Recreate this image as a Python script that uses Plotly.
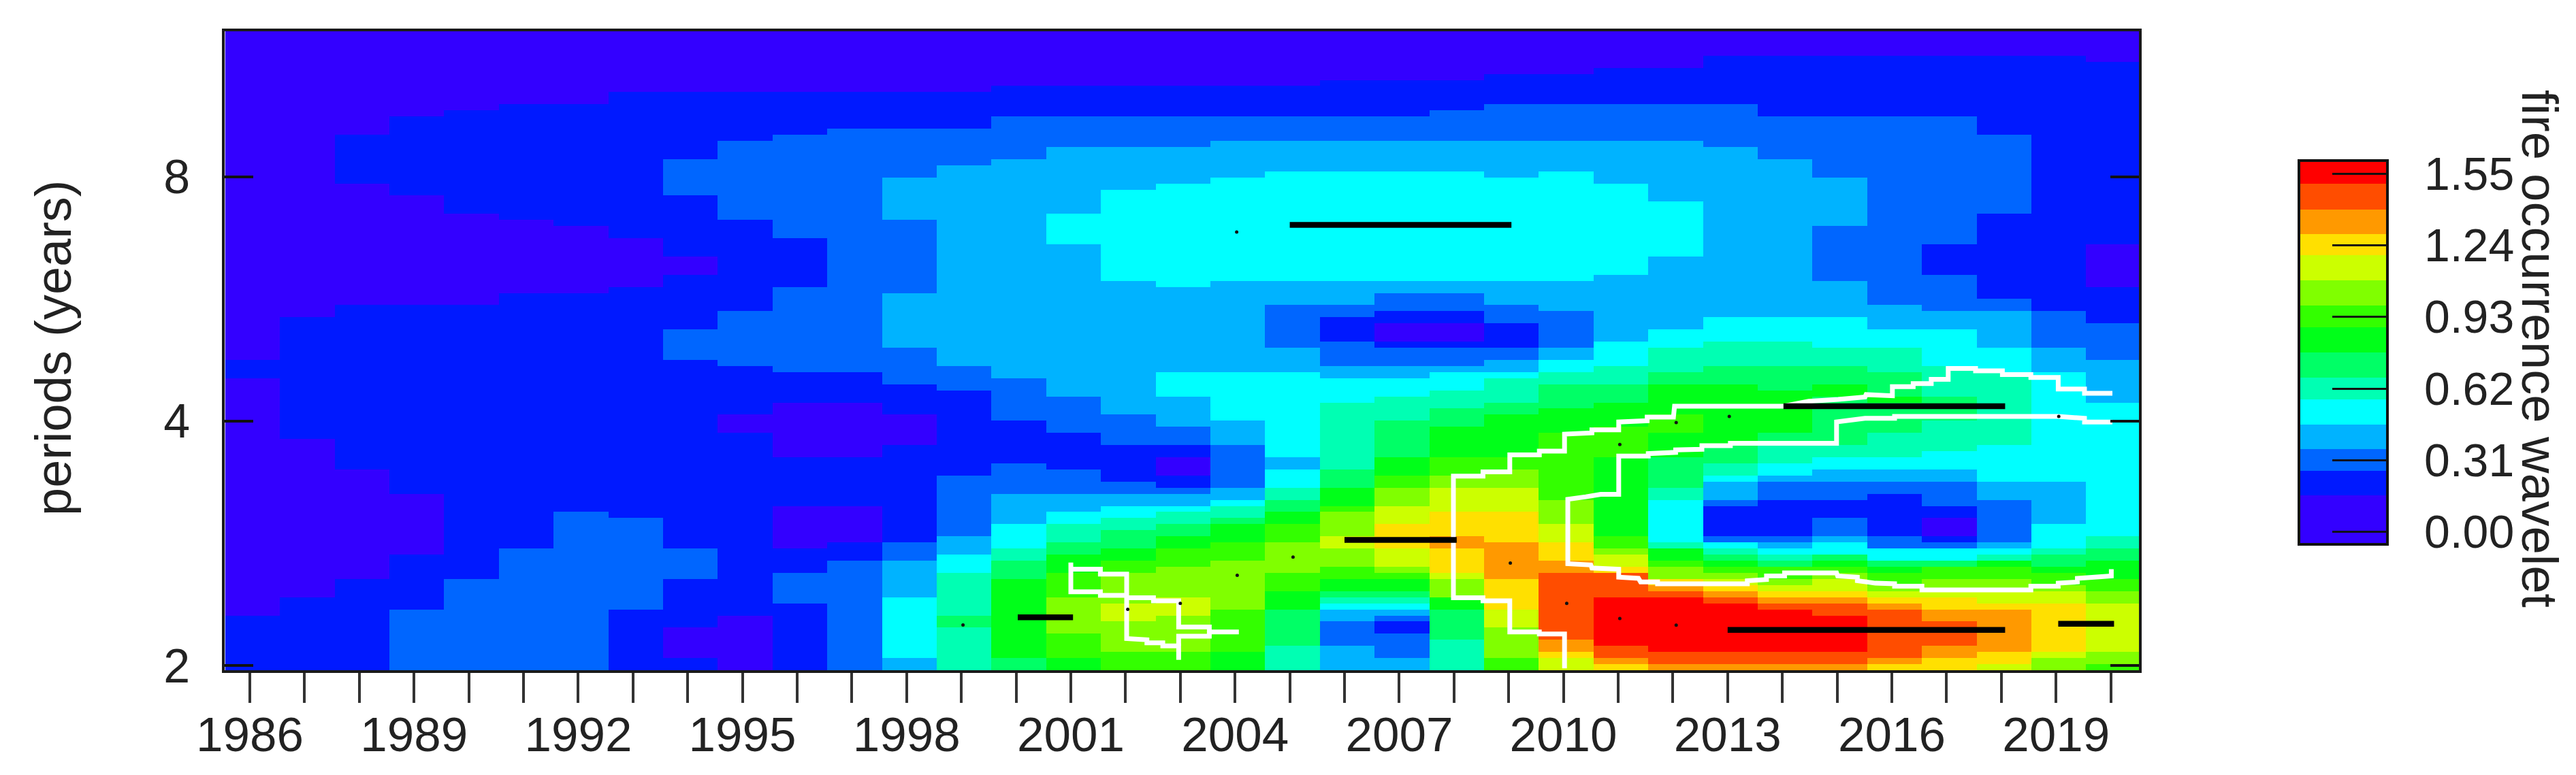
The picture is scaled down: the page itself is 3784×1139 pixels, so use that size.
"""Wavelet power spectrum of fire occurrence, 1986-2020."""

import numpy as np
import plotly.graph_objects as go

YEARS = list(range(1986, 2021))
N_SCALES = 105

# Rainbow key of the power image, lowest band first
LEVEL_COLORS = [
    "#3300ff", "#0019ff", "#0066ff", "#00b3ff", "#00ffff",
    "#00ffb3", "#00ff66", "#00ff19", "#33ff00", "#80ff00",
    "#ccff00", "#ffe000", "#ff9900", "#ff4d00", "#ff0000",
]
# Band limits of the key, in wavelet power
LEVEL_EDGES = [
    -0.054, 0.158, 0.263, 0.359, 0.464, 0.574, 0.668, 0.776,
    0.885, 0.979, 1.089, 1.197, 1.287, 1.395, 1.505, 1.606,
]
KEY_TICKS = [0.00, 0.31, 0.62, 0.93, 1.24, 1.55]

# One row per year: level, top scale index, level, top scale index, ... going up
POWER_BANDS = [
    [1, 9, 0, 48, 1, 51, 0, 105],
    [1, 12, 0, 37.6, 1, 58.4, 0, 105],
    [1, 14.7, 0, 33.2, 1, 60.3, 0, 80, 1, 88, 0, 105],
    [2, 10.2, 1, 19.4, 0, 28.7, 1, 60.3, 0, 77.8, 1, 90.6, 0, 105],
    [2, 14.7, 1, 60.3, 0, 75.2, 1, 92.5, 0, 105],
    [2, 20.5, 1, 62, 0, 74.1, 1, 93.5, 0, 105],
    [2, 26, 1, 62, 0, 73.1, 1, 93.5, 0, 105],
    [1, 10.2, 2, 25, 1, 62.9, 0, 70.6, 1, 95.3, 0, 105],
    [1, 2, 0, 7.5, 1, 14.9, 2, 20.5, 1, 51.2, 2, 55.8, 1, 65, 0, 68.5, 1, 77.8, 2, 84.4, 1, 95.3, 0, 105],
    [0, 8.7, 1, 39, 0, 41.8, 1, 50.2, 2, 59.4, 1, 74.2, 2, 86.9, 1, 95.3, 0, 105],
    [1, 11.4, 2, 16, 1, 20.5, 0, 27.1, 1, 35.5, 0, 44.4, 1, 49.1, 2, 62.9, 1, 70.6, 2, 87.9, 1, 95.3, 0, 105],
    [2, 17.9, 1, 21.4, 0, 27.1, 1, 35.5, 0, 44.4, 1, 49.1, 2, 89.1, 1, 95.3, 0, 105],
    [3, 2, 4, 12.3, 3, 17.9, 2, 21.5, 1, 37.3, 0, 41.9, 1, 46.7, 2, 52.8, 3, 61.8, 2, 74.3, 3, 81.3, 2, 89.1, 1, 95.3, 0, 105],
    [5, 6.7, 6, 8.8, 5, 15.8, 4, 19.5, 3, 22.5, 2, 31.7, 1, 45.6, 2, 50.2, 3, 83.4, 2, 89.1, 1, 95.3, 0, 105],
    [6, 2, 7, 14.7, 6, 17.9, 5, 20.5, 4, 24, 3, 28.6, 2, 34.1, 1, 40.9, 2, 48.1, 3, 84.4, 2, 90.6, 1, 96.3, 0, 105],
    [7, 2, 8, 5.6, 9, 12.3, 8, 15.8, 7, 19.4, 6, 21.4, 5, 24, 4, 26, 3, 28.6, 2, 33.2, 1, 39, 2, 44.6, 3, 70, 4, 75.2, 3, 86, 2, 90.6, 1, 96.3, 0, 105],
    [8, 3, 9, 7.6, 10, 11.2, 9, 15.8, 8, 18, 7, 20, 6, 22.6, 5, 25, 4, 27, 3, 28.6, 2, 30.6, 1, 37.3, 2, 41.9, 3, 64, 4, 78.8, 3, 86, 2, 90.6, 1, 96.3, 0, 105],
    [8, 3, 9, 8.8, 10, 12.3, 9, 17, 8, 20.3, 7, 22.5, 6, 24, 5, 26, 4, 27, 3, 28.6, 2, 29.6, 1, 31.9, 0, 35.2, 1, 37.5, 2, 39.9, 3, 45.4, 4, 49.1, 3, 62.9, 4, 79.9, 3, 86, 2, 91.5, 1, 96.3, 0, 105],
    [7, 3.2, 8, 10.2, 9, 17.9, 8, 21.4, 7, 24, 6, 25.2, 5, 27, 4, 28.5, 3, 29.6, 2, 37.3, 3, 40.8, 4, 49, 3, 64, 4, 81.3, 3, 86.9, 2, 91.5, 1, 96.3, 0, 105],
    [5, 3.9, 6, 10.2, 7, 13.4, 8, 15.8, 9, 21.4, 8, 24, 7, 25.8, 6, 28.5, 5, 29.6, 4, 33.2, 3, 35.2, 4, 49, 3, 52.7, 2, 60.3, 3, 64, 4, 82.3, 3, 86.9, 2, 91.5, 1, 96.3, 0, 105],
    [3, 3.9, 2, 7.6, 3, 10.2, 4, 11.4, 5, 12, 6, 13.2, 7, 14.7, 8, 17, 9, 19.6, 10, 22.5, 9, 25.9, 8, 27, 7, 29.6, 6, 33.2, 5, 44.4, 4, 48.1, 3, 50.1, 2, 53.7, 1, 58.4, 2, 60.3, 3, 64, 4, 82.3, 3, 86.9, 2, 91.5, 1, 97.3, 0, 105],
    [3, 2, 2, 5.6, 1, 7.6, 2, 8.6, 3, 10.2, 4, 11.4, 5, 12, 6, 13.2, 7, 14.7, 8, 15.8, 9, 17, 10, 19.6, 11, 24, 10, 27, 9, 29.6, 8, 31.9, 7, 35.2, 6, 41, 5, 45.5, 4, 48.1, 3, 50.1, 2, 52.7, 1, 53.7, 0, 57.2, 1, 59.3, 2, 61.7, 3, 64, 4, 82.3, 3, 86.9, 2, 91.5, 1, 97.3, 0, 105],
    [5, 5.4, 6, 10.2, 7, 11.7, 9, 14.7, 10, 15.8, 11, 19.6, 12, 22.4, 11, 26.1, 10, 29.6, 9, 31.7, 8, 35.2, 7, 39.7, 6, 43.4, 5, 46.4, 4, 49, 3, 50, 2, 52.7, 1, 53.7, 0, 57.2, 1, 59.3, 2, 61.7, 3, 64, 4, 82.3, 3, 86.9, 2, 92.4, 1, 97.3, 0, 105],
    [8, 2, 9, 6.7, 10, 10.2, 11, 15, 12, 21.4, 11, 26, 10, 29.6, 9, 33.2, 8, 35.2, 7, 41.9, 6, 44.5, 5, 48, 4, 49, 3, 51, 2, 53, 1, 57, 2, 60, 3, 64, 4, 81.3, 3, 86.9, 2, 92.6, 1, 98.3, 0, 105],
    [10, 2, 11, 3, 12, 5, 13, 16, 12, 18, 11, 21.5, 10, 24, 9, 28.1, 8, 39.3, 7, 43, 6, 46.6, 5, 49.2, 4, 51.2, 3, 53.5, 2, 59.4, 3, 64, 4, 82, 3, 86.9, 2, 92.6, 1, 98.3, 0, 105],
    [11, 1, 12, 2, 13, 4.1, 14, 12.3, 13, 15.8, 12, 16.5, 11, 17, 10, 18.6, 9, 20.5, 8, 22.5, 7, 34.8, 8, 40.4, 7, 43.8, 6, 46.8, 5, 50, 4, 53.7, 3, 65, 4, 79.9, 3, 87, 2, 92.6, 1, 99, 0, 105],
    [12, 1, 13, 3, 14, 12, 13, 13.4, 12, 14.2, 11, 15, 10, 15.5, 9, 17, 8, 18, 7, 19.6, 5, 21.4, 4, 28.5, 5, 30.4, 6, 34.8, 7, 38.9, 8, 41.9, 7, 46.6, 6, 49.4, 5, 52.7, 4, 55.8, 3, 68.5, 4, 76.7, 3, 87, 2, 92.6, 1, 99, 0, 105],
    [12, 1, 13, 3, 14, 11.3, 13, 12.3, 12, 13.2, 11, 13.8, 10, 14.6, 9, 15.8, 8, 17, 7, 18, 6, 19, 5, 20, 4, 20.7, 3, 21.4, 2, 22.5, 1, 27, 2, 28.5, 3, 30.6, 4, 31.7, 5, 34, 6, 36.7, 7, 46.6, 6, 50, 5, 53.7, 4, 58, 3, 86, 2, 92.6, 1, 100.8, 0, 105],
    [12, 1, 13, 3, 14, 10.2, 13, 11.4, 12, 12.3, 11, 13.4, 10, 14.4, 9, 15.5, 8, 16.6, 7, 17.5, 6, 18.5, 5, 19.4, 4, 20.5, 3, 21.4, 2, 22.5, 1, 28.5, 2, 30.7, 3, 31.8, 4, 34.1, 5, 36.7, 6, 39, 7, 46.4, 6, 50, 5, 53.7, 4, 58, 3, 84.4, 2, 91.5, 1, 100.8, 0, 105],
    [12, 1, 13, 3, 14, 8.6, 13, 11.4, 12, 12.3, 11, 13.4, 10, 14.7, 9, 15.7, 8, 16.6, 7, 17.9, 6, 18.6, 5, 19.4, 4, 20.9, 3, 22, 2, 25, 1, 28.5, 2, 30.7, 3, 33.2, 4, 35.2, 5, 37.4, 6, 44.6, 7, 47, 6, 50, 5, 53, 4, 57.6, 3, 64, 2, 73, 3, 81.3, 2, 91, 1, 100.8, 0, 105],
    [11, 1.1, 12, 2, 13, 10.2, 12, 11.2, 11, 12.1, 10, 13.2, 9, 14.2, 8, 15.7, 7, 16.8, 6, 17.9, 4, 19.6, 3, 20.5, 2, 22.5, 1, 28.7, 2, 30.7, 3, 33.2, 4, 35.4, 5, 38.8, 6, 44.2, 7, 45.5, 6, 49, 5, 52.7, 4, 56.5, 3, 60, 2, 91, 1, 100.8, 0, 105],
    [11, 2, 12, 4.1, 13, 7.6, 12, 10.2, 11, 12.5, 10, 13.4, 9, 15.3, 8, 16.8, 6, 17.9, 4, 19.6, 3, 20.5, 2, 21, 1, 22.5, 0, 25, 1, 27, 2, 30.7, 3, 33.2, 4, 36.3, 5, 41, 6, 45.3, 5, 50.1, 4, 56, 3, 58.6, 2, 65, 1, 69.6, 2, 90.6, 1, 100.8, 0, 105],
    [10, 1, 11, 3, 12, 10.2, 11, 11.2, 10, 13.4, 9, 15.3, 8, 16.8, 7, 17.9, 5, 19.4, 4, 20.5, 3, 21.4, 2, 28.5, 3, 30.7, 4, 37.3, 5, 49, 4, 52.6, 3, 58.6, 2, 60.7, 1, 75.3, 2, 87.9, 1, 100.8, 0, 105],
    [9, 2, 10, 3, 11, 11.2, 10, 13.2, 9, 14.2, 8, 15.7, 7, 16.8, 6, 19.2, 5, 20.5, 4, 24.2, 3, 30.6, 4, 49, 3, 53.3, 2, 58.6, 1, 100.8, 0, 105],
    [8, 1, 9, 3, 10, 11.2, 9, 13.2, 8, 15.3, 7, 17.9, 6, 20.5, 5, 22.5, 4, 44.5, 3, 51, 2, 57.5, 1, 63.1, 0, 70.4, 1, 99.8, 0, 105],
]

# Significance contours: year and scale index
CONTOUR_OUTER_YEAR = [
    2010.02, 2010.02, 2009.56, 2009.56, 2009.02, 2009.02, 2008.53, 2008.53, 2007.99, 2007.99,
    2008.53, 2008.53, 2009.02, 2009.02, 2009.56, 2009.56, 2010.02, 2010.02, 2010.52, 2010.52,
    2011.01, 2011.01, 2011.53, 2011.53, 2012.01, 2012.03, 2014.02, 2014.48, 2015.02, 2015.51,
    2015.53, 2016.01, 2016.01, 2016.39, 2016.39, 2016.72, 2016.72, 2017.03, 2017.03, 2017.53,
    2017.53, 2018.02, 2018.02, 2018.54, 2018.54, 2019.04, 2019.04, 2019.52, 2019.52, 2020.03,
]
CONTOUR_OUTER_SCALE = [
    0.3, 5.96, 5.96, 6.3, 6.3, 11.4, 11.4, 11.9, 11.9, 31.9,
    31.9, 32.6, 32.6, 35.4, 35.4, 36, 36, 38.8, 39, 39.5,
    39.5, 40.8, 41, 41.6, 41.6, 43.4, 43.4, 44.2, 44.5, 44.9,
    45.3, 45.1, 46.6, 46.6, 47.1, 47.1, 47.8, 47.8, 49.6, 49.6,
    49.2, 49.2, 48.6, 48.6, 48.1, 48.1, 46.2, 46.2, 45.5, 45.5,
]
CONTOUR_INNER_YEAR = [
    2020.03, 2019.52, 2019.52, 2019.04, 2016.05, 2016.05, 2015.51, 2014.99, 2014.99, 2013.05,
    2013.05, 2012.53, 2012.53, 2012.05, 2012.05, 2011.55, 2011.55, 2011.01, 2011.01, 2010.68,
    2010.41, 2010.08, 2010.08, 2010.50, 2010.52, 2011.01, 2011.01, 2011.37, 2011.41, 2011.72,
    2011.72, 2013.36, 2013.36, 2013.71, 2013.71, 2014.04, 2014.04, 2014.99, 2015.01, 2015.37,
    2015.37, 2015.70, 2016.05, 2016.05, 2016.55, 2016.55, 2018.54, 2018.54, 2019.04, 2019.04,
    2019.39, 2019.39, 2019.70, 2020.01, 2020.01,
]
CONTOUR_INNER_SCALE = [
    40.8, 40.8, 41.4, 41.7, 41.7, 41.4, 41.4, 40.8, 37.3, 37.3,
    36.9, 36.9, 36.3, 36.2, 35.8, 35.6, 35.2, 35.2, 28.9, 28.9,
    28.5, 28.1, 17.5, 17.3, 16.8, 16.6, 15.3, 15.1, 14.5, 14.5,
    14.2, 14.2, 14.7, 14.9, 15.5, 15.5, 16, 16, 15.5, 15.3,
    14.7, 14.3, 14.2, 13.8, 13.8, 13.2, 13.2, 13.8, 13.8, 14.3,
    14.5, 15.1, 15.3, 15.5, 16.6,
]
CONTOUR_SMALL_YEAR = [
    2001.0, 2001.0, 2001.54, 2001.54, 2002.02, 2002.02, 2001.54, 2001.54, 2001.0, None,
    2002.02, 2002.02, 2002.39, 2002.39, 2002.68, 2002.68, 2002.97, 2002.97, None,
    2002.97, 2002.97, 2003.53, 2003.53, 2004.07, 2003.53, 2003.53, 2002.97, 2002.97,
    2002.51, 2002.51, 2002.02,
]
CONTOUR_SMALL_SCALE = [
    17.7, 12.9, 12.9, 12.3, 12.3, 15.8, 15.8, 16.6, 16.6, None,
    12.3, 5.2, 5.0, 4.5, 4.5, 4.0, 4.0, 1.7, None,
    4.0, 5.6, 5.6, 6.3, 6.3, 6.3, 7.1, 7.1, 11.4,
    11.4, 11.9, 11.9,
]

# Power ridges
RIDGE_START = [2005.0, 2014.02, 2013.0, 2019.04, 2006.0, 2000.03]
RIDGE_END = [2009.05, 2018.07, 2018.07, 2020.06, 2008.05, 2001.04]
RIDGE_SCALE = [73.2, 43.4, 6.63, 7.64, 21.4, 8.7]
RIDGE_DOT_YEAR = [1999.03, 2002.04, 2003.0, 2004.04, 2005.06, 2009.03, 2010.06, 2011.03, 2012.06, 2011.03, 2012.06, 2013.03, 2019.05, 2004.03]
RIDGE_DOT_SCALE = [7.45, 10, 11, 15.6, 18.6, 17.6, 11, 8.5, 7.4, 37.1, 40.7, 41.7, 41.7, 72]

PERIOD_TICKS = [2, 4, 8]
AXIS_COLOR = "#1a1a1a"
FONT = "Liberation Sans"


def scale_to_log2(scale):
    """Scale index to log2(period); 40 voices per octave as drawn."""
    return 0.9805 + 0.02491 * np.asarray(scale, dtype=float)


def expand_bands(bands):
    """Run-length bands of one year to a full column of power values."""
    mids = [(LEVEL_EDGES[i] + LEVEL_EDGES[i + 1]) / 2 for i in range(len(LEVEL_COLORS))]
    column = []
    for j in range(N_SCALES):
        for k in range(0, len(bands), 2):
            if j + 0.5 < bands[k + 1]:
                column.append(mids[bands[k]])
                break
    return column


def log2_or_none(values):
    return [None if v is None else float(scale_to_log2(v)) for v in values]


z = np.array([expand_bands(b) for b in POWER_BANDS]).T

zmin, zmax = LEVEL_EDGES[0], LEVEL_EDGES[-1]
colorscale = []
for i, color in enumerate(LEVEL_COLORS):
    colorscale.append([(LEVEL_EDGES[i] - zmin) / (zmax - zmin), color])
    colorscale.append([(LEVEL_EDGES[i + 1] - zmin) / (zmax - zmin), color])

fig = go.Figure()
fig.add_trace(
    go.Heatmap(
        x=[y + 0.05 for y in YEARS],
        y=scale_to_log2(np.arange(N_SCALES) + 0.5),
        z=z,
        zmin=zmin,
        zmax=zmax,
        colorscale=colorscale,
        colorbar=dict(
            x=(3377 - 330) / 2812,
            xanchor="left",
            y=(985 - 800) / 939,
            yanchor="bottom",
            xpad=0,
            ypad=0,
            lenmode="pixels",
            len=564,
            thicknessmode="pixels",
            thickness=130,
            outlinecolor="#111111",
            outlinewidth=4,
            ticks="inside",
            ticklen=83,
            tickwidth=3,
            tickcolor="#111111",
            tickvals=KEY_TICKS,
            ticktext=[f"\u00a0\u00a0{t:.2f}" for t in KEY_TICKS],
            tickfont=dict(family=FONT, size=68, color="#222222"),
        ),
        hovertemplate="%{x:.0f}: %{z:.2f}<extra></extra>",
    )
)

contour_line = dict(color="white", width=7, shape="linear")
for xs, ys in [
    (CONTOUR_OUTER_YEAR, CONTOUR_OUTER_SCALE),
    (CONTOUR_INNER_YEAR, CONTOUR_INNER_SCALE),
    (CONTOUR_SMALL_YEAR, CONTOUR_SMALL_SCALE),
]:
    fig.add_trace(
        go.Scatter(x=xs, y=log2_or_none(ys), mode="lines", line=contour_line, showlegend=False, hoverinfo="skip")
    )

ridge_x, ridge_y = [], []
for start, end, scale in zip(RIDGE_START, RIDGE_END, RIDGE_SCALE):
    ridge_x += [start, end, None]
    ridge_y += [scale, scale, None]
fig.add_trace(
    go.Scatter(x=ridge_x, y=log2_or_none(ridge_y), mode="lines", line=dict(color="black", width=8.5), showlegend=False, hoverinfo="skip")
)
fig.add_trace(
    go.Scatter(
        x=RIDGE_DOT_YEAR,
        y=log2_or_none(RIDGE_DOT_SCALE),
        mode="markers",
        marker=dict(color="#111111", size=5),
        showlegend=False,
        hoverinfo="skip",
    )
)

fig.update_xaxes(
    range=[1985.54, 2020.515],
    tickmode="array",
    tickvals=YEARS,
    ticktext=[str(y) if (y - 1986) % 3 == 0 else "" for y in YEARS],
    ticks="outside",
    ticklen=44,
    tickwidth=3.5,
    tickcolor="#333333",
    tickfont=dict(family=FONT, size=71, color="#222222"),
    ticklabelstandoff=-14,
    tickangle=0,
    showline=True,
    linecolor=AXIS_COLOR,
    linewidth=4,
    mirror=True,
    showgrid=False,
    zeroline=False,
)
fig.update_yaxes(
    range=[float(scale_to_log2(0)), float(scale_to_log2(N_SCALES))],
    tickmode="array",
    tickvals=[float(np.log2(p)) for p in PERIOD_TICKS],
    ticktext=[f"{p}\u00a0\u00a0" for p in PERIOD_TICKS],
    ticks="inside",
    ticklen=42,
    tickwidth=4,
    tickcolor="#111111",
    tickfont=dict(family=FONT, size=70, color="#222222"),
    ticklabelstandoff=-6,
    showline=True,
    linecolor=AXIS_COLOR,
    linewidth=4,
    mirror="ticks",
    showgrid=False,
    zeroline=False,
)

fig.add_annotation(
    text="periods (years)",
    xref="paper",
    yref="paper",
    x=(78 - 330) / 2812,
    y=(985 - 511) / 939,
    xanchor="center",
    yanchor="middle",
    textangle=-90,
    showarrow=False,
    font=dict(family=FONT, size=74, color="#222222"),
)
fig.add_annotation(
    text="fire occurrence wavelet",
    xref="paper",
    yref="paper",
    x=(3731 - 330) / 2812,
    y=(985 - 512) / 939,
    xanchor="center",
    yanchor="middle",
    textangle=90,
    showarrow=False,
    font=dict(family=FONT, size=74, color="#222222"),
)

fig.update_layout(
    width=3784,
    height=1139,
    # the page body keeps its default 8 px margin, so the frame sits 8 px further in
    margin=dict(l=322, r=650, t=38, b=162, autoexpand=False),
    paper_bgcolor="white",
    plot_bgcolor="white",
    showlegend=False,
)

fig.write_html("out.html")
